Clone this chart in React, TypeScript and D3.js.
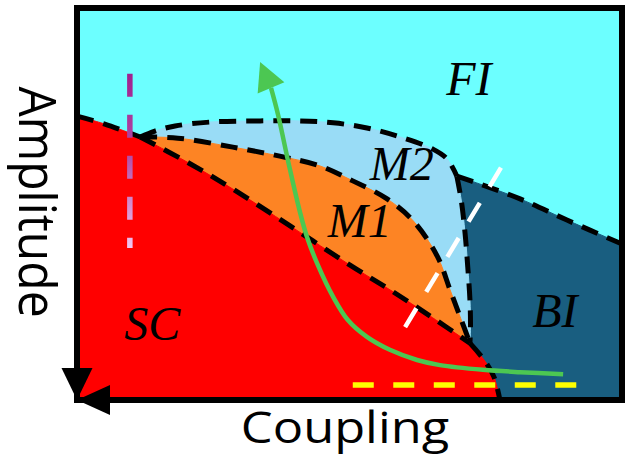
import React from "react";
import * as d3 from "d3";

type P = [number, number];

// Phase-diagram boundaries (Coupling x, Amplitude y), schematic units 0..100
const scFi: P[] = [[0, 72.4], [5.1, 70.4], [11.6, 67.1]];
const scM1: P[] = [[11.6, 67.1], [20.2, 60.7], [28.6, 53.8], [39.1, 44.4], [50.1, 34.4], [58.0, 27.6], [64.8, 21.4], [72.1, 14.5]];
const scBi: P[] = [[72.1, 14.5], [74.7, 10.2], [76.5, 5.9], [77.6, 0]];
const m1m2: P[] = [[11.6, 67.1], [18.5, 66.8], [28.6, 64.5], [37.2, 62.2], [44.6, 59.7], [50.6, 55.9], [56.9, 51.3], [61.7, 45.7], [66.1, 36.7], [68.4, 28.3], [70.3, 21.2], [72.1, 14.5]];
const m2Fi: P[] = [[11.6, 67.1], [14.3, 68.6], [18.0, 69.9], [24.4, 70.9], [33.6, 71.2], [40.9, 71.2], [47.0, 70.7], [53.2, 69.4], [59.3, 67.1], [65.3, 64.0], [67.9, 61.5], [69.7, 57.1]];
const m2Bi: P[] = [[69.7, 57.1], [70.5, 51.0], [71.2, 42.6], [71.7, 33.9], [72.1, 25.5], [72.2, 19.1], [72.1, 14.5]];
const biFi: P[] = [[69.7, 57.1], [73.9, 55.1], [81.3, 51.3], [89.9, 45.9], [100, 39.8]];

// Trajectory (green arrow)
const greenPath: P[] = [[89.2, 6.6], [81.3, 7.1], [74.5, 7.7], [66.6, 8.9], [62.4, 10.2], [57.4, 12.8], [53.2, 16.1], [49.7, 20.4], [47.0, 26.3], [44.2, 34.4], [42.2, 41.6], [40.9, 48.0], [38.9, 59.9], [36.9, 72.7], [35.6, 79.6]];
const greenTip: P = [33.6, 86.2];

// Cuts
const magentaCut: P[] = [[9.7, 83.2], [9.7, 38.8]];
const whiteCut: P[] = [[60.2, 18.6], [78.2, 60.2]];
const yellowCut: P[] = [[50.6, 3.8], [91.9, 3.8]];

// Phase labels
const phaseNames = ["FI", "M2", "M1", "SC", "BI"];
const phaseLabelPos: P[] = [[71.9, 77.8], [59.6, 56.1], [51.9, 41.6], [13.8, 15.3], [87.7, 18.6]];

const xTitle = "Coupling";
const yTitle = "Amplitude";

const W = 633, H = 460;
const C = {
  FI: "#6CFFFF",
  SC: "#FF0000",
  M1: "#FD8424",
  M2: "#99DCF6",
  BI: "#195E80",
  green: "#4CC752",
};

export default function App() {
  const x = d3.scaleLinear().domain([0, 100]).range([77, 622]);
  const y = d3.scaleLinear().domain([0, 100]).range([400, 8]);
  const line = d3.line<P>().x(d => x(d[0])).y(d => y(d[1])).curve(d3.curveCatmullRom.alpha(0.5));
  const straight = d3.line<P>().x(d => x(d[0])).y(d => y(d[1]));
  const seg = (pts: P[], rev = false) => line(rev ? [...pts].reverse() : pts)!;
  const join = (...s: string[]) => s.map((v, i) => (i === 0 ? v : v.replace(/^M/, "L"))).join("") + "Z";
  const L = (p: P) => `L${x(p[0])},${y(p[1])}`;

  const scArea = join(seg(scFi), seg(scM1), seg(scBi), L([0, 0]));
  const m1Area = join(seg(m1m2), seg(scM1, true));
  const m2Area = join(seg(m2Fi), seg(m2Bi), seg(m1m2, true));
  const biArea = join(seg(biFi), L([100, 0]), seg(scBi, true), seg(m2Bi, true));

  // arrowhead for green trajectory
  const last = greenPath[greenPath.length - 1];
  const bx = x(last[0]), by = y(last[1]);
  const tx = x(greenTip[0]), ty = y(greenTip[1]);
  const dx = tx - bx, dy = ty - by;
  const len = Math.hypot(dx, dy);
  const px = -dy / len, py = dx / len;
  const hw = 14.5;
  const head = `M${tx},${ty}L${bx + px * hw},${by + py * hw}L${bx - px * hw},${by - py * hw}Z`;

  const ox = x(0), oy = y(0);
  const downHead = `M${ox},${oy}L${ox - 15.5},${oy - 32}L${ox + 15.5},${oy - 32}Z`;
  const leftHead = `M${ox},${oy}L${ox + 33},${oy - 15}L${ox + 33},${oy + 15}Z`;

  const dashed = { fill: "none", stroke: "#000", strokeWidth: 5, strokeDasharray: "17,10" } as const;

  return (
    <svg width={W} height={H} style={{ position: "fixed", left: 0, top: 0, background: "#fff" }}>
      <defs>
        <linearGradient id="mag" gradientUnits="userSpaceOnUse" x1={0} x2={0} y1={y(magentaCut[0][1])} y2={y(magentaCut[1][1])}>
          <stop offset="0" stopColor="#A0218F" />
          <stop offset="0.45" stopColor="#B04AA5" />
          <stop offset="1" stopColor="#F2C6F2" />
        </linearGradient>
      </defs>
      <rect x={x(0)} y={y(100)} width={x(100) - x(0)} height={y(0) - y(100)} fill={C.FI} />
      <path d={biArea} fill={C.BI} stroke={C.BI} strokeWidth={1} />
      <path d={m2Area} fill={C.M2} stroke={C.M2} strokeWidth={1} />
      <path d={m1Area} fill={C.M1} stroke={C.M1} strokeWidth={1} />
      <path d={scArea} fill={C.SC} stroke={C.SC} strokeWidth={1} />

      {[scFi, scM1, scBi, m1m2, m2Fi, m2Bi, biFi].map((b, i) => (
        <path key={i} d={seg(b)} {...dashed} />
      ))}

      <path d={straight(magentaCut)!} stroke="url(#mag)" strokeWidth={5.5} strokeDasharray="23,18" fill="none" />
      <path d={straight(whiteCut)!} stroke="#fff" strokeWidth={4.5} strokeDasharray="22,19" fill="none" />
      <path d={straight(yellowCut)!} stroke="#FFFF00" strokeWidth={5.5} strokeDasharray="21,19.5" fill="none" />

      <path d={seg(greenPath)} stroke={C.green} strokeWidth={4.5} fill="none" />
      <path d={head} fill={C.green} />

      <rect x={x(0)} y={y(100)} width={x(100) - x(0)} height={y(0) - y(100)} fill="none" stroke="#000" strokeWidth={6} />
      <path d={downHead} fill="#000" />
      <path d={leftHead} fill="#000" />

      {phaseNames.map((n, i) => (
        <text key={n} x={x(phaseLabelPos[i][0])} y={y(phaseLabelPos[i][1])} textAnchor="middle"
          fontFamily="'Liberation Serif', serif" fontStyle="italic" fontSize={48} fill="#000">{n}</text>
      ))}

      <text transform={`translate(345,443) scale(1.15,1)`} textAnchor="middle" fontFamily="'Open Sans', sans-serif" fontSize={44} fill="#000">{xTitle}</text>
      <text transform={`translate(19,202) scale(1.05,1) rotate(90)`} textAnchor="middle" fontFamily="'Open Sans', sans-serif" fontSize={48} fill="#000">{yTitle}</text>
    </svg>
  );
}
